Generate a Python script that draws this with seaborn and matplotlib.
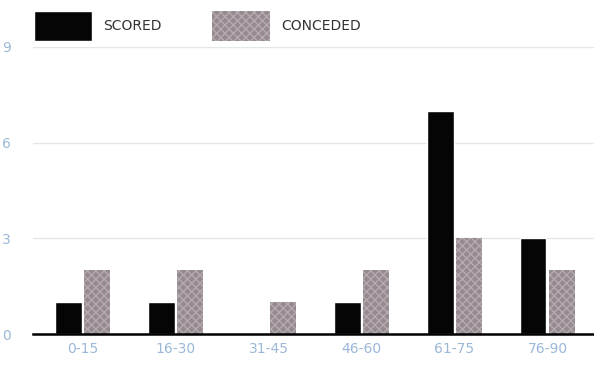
import pandas as pd
import matplotlib.pyplot as plt
import seaborn as sns
from matplotlib.patches import Patch

# goals by 15 minute period
periods = ['0-15', '16-30', '31-45', '46-60', '61-75', '76-90']
scored = [1, 1, 0, 1, 7, 3]
conceded = [2, 2, 1, 2, 3, 2]

df = pd.DataFrame({
    'period': periods * 2,
    'goals': scored + conceded,
    'type': ['SCORED'] * 6 + ['CONCEDED'] * 6,
})

sns.set_style('white')
plt.rcParams['font.family'] = ['DejaVu Sans']

fig = plt.figure(figsize=(5.94, 3.70), dpi=100)
ax = fig.add_axes([0.056, 0.097, 0.944, 0.776])

sns.barplot(x='period', y='goals', hue='type', data=df, ax=ax,
            palette={'SCORED': '#050505', 'CONCEDED': '#968a91'},
            width=0.62, gap=0.07, saturation=1, legend=False)

# little bit of texture on the conceded bars
for bar in ax.containers[1]:
    bar.set_hatch('xxxx')
    bar.set_edgecolor('#b4aab0')
    bar.set_linewidth(0)

ax.set_xlim(-0.53, 5.5)
ax.set_ylim(0, 9)
ax.set_yticks([0, 3, 6, 9])
ax.yaxis.grid(True, color='#e6e6e6', linewidth=1)
ax.set_axisbelow(True)
for s in ['top', 'right', 'left']:
    ax.spines[s].set_visible(False)
ax.spines['bottom'].set_color('black')
ax.spines['bottom'].set_linewidth(1.8)
ax.tick_params(axis='both', length=0, labelsize=10, labelcolor='#9bb8d8')
ax.tick_params(axis='y', pad=16)
ax.tick_params(axis='x', pad=6)
ax.set_xlabel('')
ax.set_ylabel('')

# legend on top
handles = [Patch(facecolor='#050505', label='SCORED'),
           Patch(facecolor='#968a91', hatch='xxxx', edgecolor='#b4aab0',
                 linewidth=0, label='CONCEDED')]
fig.legend(handles=handles, loc='upper left', bbox_to_anchor=(34 / 594, 1 - 11 / 370),
           ncol=2, frameon=False, fontsize=10, handlelength=4.2,
           handleheight=2.9, handletextpad=0.8, columnspacing=3.6,
           borderpad=0, borderaxespad=0, labelcolor='#333333')

plt.savefig('out.png', dpi=100)
